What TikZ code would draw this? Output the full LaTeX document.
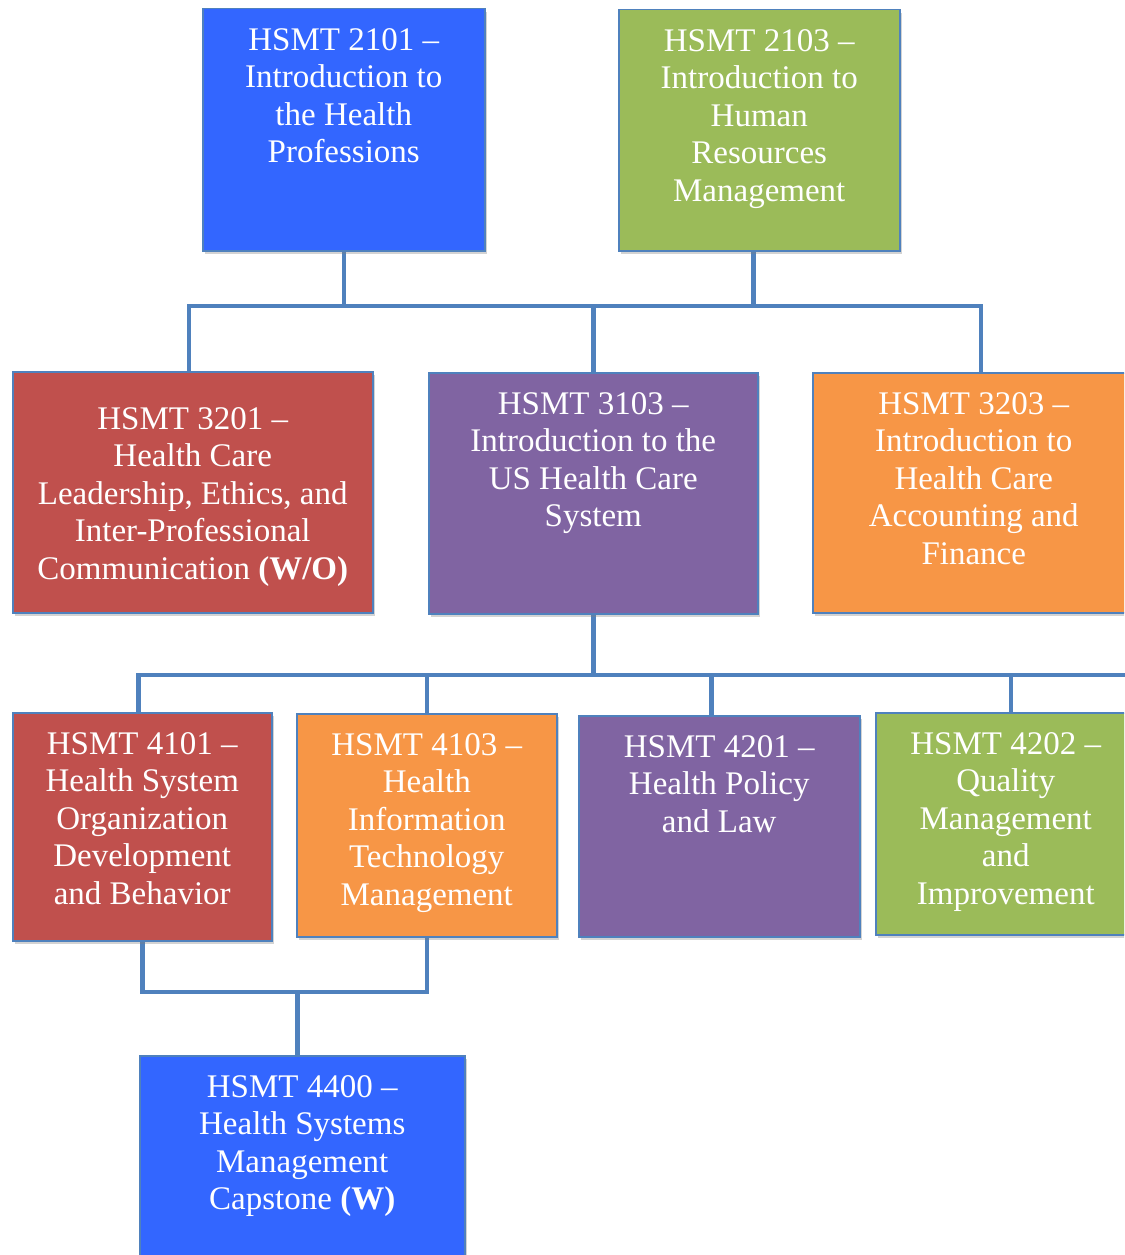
\documentclass[tikz,border=0pt]{standalone}
\usepackage{fontspec}
\setmainfont{Liberation Serif}
\usetikzlibrary{shadows,backgrounds}

\definecolor{boxblue}{RGB}{51,102,255}
\definecolor{boxgreen}{RGB}{155,187,89}
\definecolor{boxred}{RGB}{192,80,77}
\definecolor{boxpurple}{RGB}{128,100,162}
\definecolor{boxorange}{RGB}{247,150,70}
\definecolor{linkblue}{RGB}{79,129,189}

\begin{document}
\begin{tikzpicture}[x=1pt, y=1pt,
    course/.style={draw=linkblue, line width=1.5pt, anchor=north west, inner sep=0pt,
        drop shadow={opacity=0.35, shadow xshift=2pt, shadow yshift=-3pt}},
    coursetext/.style={anchor=north, align=center, text=white, inner sep=0pt,
        font=\fontsize{33}{37.5}\selectfont},
    link/.style={draw=linkblue, line width=4.5pt}]

    \clip (0,0) rectangle (1124,-1255);

    % Draw boxes
    \node at (202,-8) [course, fill=boxblue, minimum width=282, minimum height=242] (c2101) {};
    \node at (618,-9) [course, fill=boxgreen, minimum width=281, minimum height=241] (c2103) {};

    \node at (12,-371) [course, fill=boxred, minimum width=360, minimum height=241] (c3201) {};
    \node at (428,-372) [course, fill=boxpurple, minimum width=329, minimum height=241] (c3103) {};
    \node at (812,-372) [course, fill=boxorange, minimum width=322, minimum height=240] (c3203) {};

    \node at (12,-712) [course, fill=boxred, minimum width=259, minimum height=228] (c4101) {};
    \node at (296,-713) [course, fill=boxorange, minimum width=260, minimum height=223] (c4103) {};
    \node at (578,-715) [course, fill=boxpurple, minimum width=281, minimum height=221] (c4201) {};
    \node at (875,-712) [course, fill=boxgreen, minimum width=260, minimum height=222] (c4202) {};

    \node at (139,-1055) [course, fill=boxblue, minimum width=325, minimum height=228] (c4400) {};

    % Course titles
    \node at ([yshift=-20]c2101.north) [coursetext] (t2101) {HSMT 2101 –\\Introduction to\\the Health\\Professions};
    \node at ([yshift=-20]c2103.north) [coursetext] (t2103) {HSMT 2103 –\\Introduction to\\Human\\Resources\\Management};
    \node at ([yshift=-36]c3201.north) [coursetext] (t3201) {HSMT 3201 –\\Health Care\\Leadership, Ethics, and\\Inter-Professional\\Communication \textbf{(W/O)}};
    \node at ([yshift=-20]c3103.north) [coursetext] (t3103) {HSMT 3103 –\\Introduction to the\\US Health Care\\System};
    \node at ([yshift=-20]c3203.north) [coursetext] (t3203) {HSMT 3203 –\\Introduction to\\Health Care\\Accounting and\\Finance};
    \node at ([yshift=-20]c4101.north) [coursetext] (t4101) {HSMT 4101 –\\Health System\\Organization\\Development\\and Behavior};
    \node at ([yshift=-20]c4103.north) [coursetext] (t4103) {HSMT 4103 –\\Health\\Information\\Technology\\Management};
    \node at ([yshift=-20]c4201.north) [coursetext] (t4201) {HSMT 4201 –\\Health Policy\\and Law};
    \node at ([yshift=-20]c4202.north) [coursetext] (t4202) {HSMT 4202 –\\Quality\\Management\\and\\Improvement};
    \node at ([yshift=-20]c4400.north) [coursetext] (t4400) {HSMT 4400 –\\Health Systems\\Management\\Capstone \textbf{(W)}};

    % Draw links
    \coordinate (busA) at (0,-306);
    \coordinate (busB) at (0,-675);
    \coordinate (busC) at (0,-992);
    \coordinate (busEnd) at (1140,-675);

    \coordinate (drop2103) at ([xshift=-6]c2103.south);
    \coordinate (drop3201) at ([xshift=-4]c3201.north);
    \coordinate (drop3203) at ([xshift=7]c3203.north);
    \coordinate (drop4101) at ([xshift=-4]c4101.north);
    \coordinate (drop4201) at ([xshift=-8]c4201.north);
    \coordinate (drop4202) at ([xshift=5]c4202.north);
    \coordinate (drop4400) at ([xshift=-5]c4400.north);

    \begin{scope}[on background layer]
    \draw[link] (c2101.south) -- (c2101.south |- busA);
    \draw[link] (drop2103) -- (drop2103 |- busA);
    \draw[link] (drop3201) -- (drop3201 |- busA) -- (drop3203 |- busA) -- (drop3203);
    \draw[link] (c3103.north) -- (c3103.north |- busA);

    \draw[link] (c3103.south) -- (c3103.south |- busB);
    \draw[link] (drop4101) -- (drop4101 |- busB) -- (busEnd);
    \foreach \c in {c4103.north,drop4201,drop4202}
        \draw[link] (\c) -- (\c |- busB);

    \draw[link] (c4101.south) -- (c4101.south |- busC) -- (c4103.south |- busC) -- (c4103.south);
    \draw[link] (drop4400) -- (drop4400 |- busC);
    \end{scope}
\end{tikzpicture}
\end{document}
